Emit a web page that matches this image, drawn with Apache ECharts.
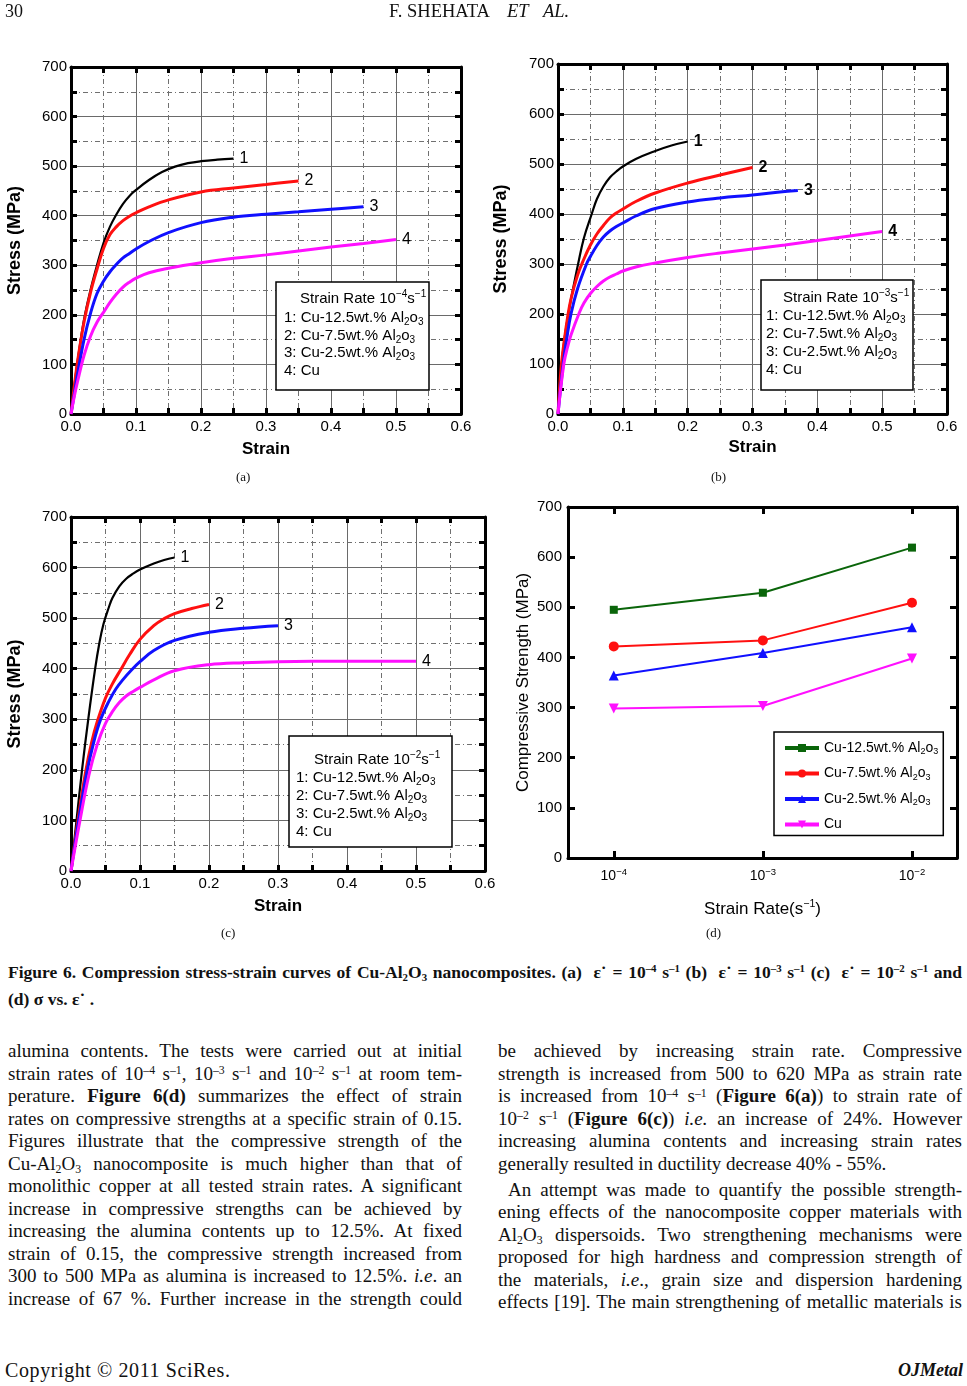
<!DOCTYPE html>
<html><head><meta charset="utf-8">
<script src="https://cdn.jsdelivr.net/npm/echarts@6/dist/echarts.min.js"></script>
<style>
html,body{margin:0;padding:0;background:#fff;}
body{width:967px;height:1386px;position:relative;overflow:hidden;font-family:"Liberation Serif","Times New Roman",serif;color:#111;}
#chart{position:absolute;left:0;top:0;width:967px;height:950px;}
.t{position:absolute;white-space:nowrap;line-height:1;}
.ln{position:absolute;white-space:nowrap;font-size:19px;line-height:22.5px;height:22.5px;transform-origin:0 50%;}
.cap{font-weight:bold;font-size:17.5px;}
sup{font-size:0.62em;vertical-align:0;position:relative;top:-0.5em;line-height:0;}
sub{font-size:0.62em;vertical-align:0;position:relative;top:0.28em;line-height:0;}
</style></head>
<body>
<div id="chart"></div>
<div class="t" style="left:5px;top:2px;font-size:18px;">30</div>
<div class="t" style="left:389px;top:2px;font-size:18.5px;">F. SHEHATA</div>
<div class="t" style="left:507px;top:2px;font-size:18.5px;font-style:italic;">ET</div>
<div class="t" style="left:543px;top:2px;font-size:18.5px;font-style:italic;">AL.</div>
<div class="t" style="left:236px;top:470px;font-size:13px;">(a)</div>
<div class="t" style="left:711px;top:470px;font-size:13px;">(b)</div>
<div class="t" style="left:221px;top:926px;font-size:13px;">(c)</div>
<div class="t" style="left:706px;top:926px;font-size:13px;">(d)</div>
<div id="textHost"></div>
<div class="t" style="left:5px;top:1360px;font-size:20px;letter-spacing:0.6px;">Copyright © 2011 SciRes.</div>
<div class="t" style="right:4px;top:1361px;font-size:18px;font-weight:bold;font-style:italic;">OJMetal</div>
<script>
// ---------------- data ----------------
// (a) strain rate 1e-4 : [strain, stress MPa]
const a1 = [[0,0],[0.005,55],[0.01,105],[0.02,190],[0.03,250],[0.04,300],[0.05,345],[0.06,378],[0.07,403],[0.08,424],[0.09,440],[0.1,452],[0.12,472],[0.14,488],[0.16,499],[0.18,506],[0.2,510],[0.225,513],[0.25,515]];
const a2 = [[0,0],[0.005,55],[0.01,105],[0.02,185],[0.03,245],[0.04,292],[0.05,334],[0.06,362],[0.07,378],[0.08,390],[0.09,399],[0.1,406],[0.12,418],[0.15,432],[0.2,448],[0.25,456],[0.3,463],[0.35,470]];
const a3 = [[0,0],[0.005,40],[0.01,80],[0.02,150],[0.03,203],[0.04,243],[0.05,268],[0.06,287],[0.07,302],[0.08,315],[0.09,324],[0.1,333],[0.12,348],[0.15,366],[0.2,386],[0.25,397],[0.3,403],[0.35,408],[0.4,413],[0.45,418]];
const a4 = [[0,0],[0.005,35],[0.01,65],[0.02,118],[0.03,157],[0.04,185],[0.05,205],[0.06,225],[0.07,242],[0.08,256],[0.09,266],[0.1,274],[0.12,285],[0.15,294],[0.2,305],[0.25,314],[0.3,321],[0.35,329],[0.4,337],[0.45,344],[0.5,352]];
// (b) strain rate 1e-3
const b1 = [[0,0],[0.005,90],[0.01,150],[0.018,215],[0.025,262],[0.031,300],[0.04,352],[0.052,400],[0.06,430],[0.07,455],[0.08,473],[0.09,485],[0.1,495],[0.12,510],[0.15,526],[0.175,537],[0.2,545]];
const b2 = [[0,0],[0.005,95],[0.01,150],[0.015,195],[0.02,230],[0.03,277],[0.04,310],[0.05,338],[0.06,360],[0.07,377],[0.08,392],[0.09,402],[0.1,410],[0.12,425],[0.15,442],[0.2,462],[0.25,478],[0.3,493]];
const b3 = [[0,0],[0.008,100],[0.014,155],[0.02,200],[0.03,250],[0.044,300],[0.05,315],[0.06,337],[0.07,354],[0.08,366],[0.09,375],[0.1,382],[0.12,396],[0.15,411],[0.2,424],[0.25,432],[0.3,438],[0.35,445],[0.37,447]];
const b4 = [[0,0],[0.009,100],[0.015,135],[0.02,158],[0.033,203],[0.04,222],[0.05,241],[0.06,255],[0.07,266],[0.08,274],[0.09,280],[0.1,286],[0.12,294],[0.15,302],[0.2,313],[0.25,322],[0.3,330],[0.35,338],[0.4,347],[0.45,356],[0.5,365]];
// (c) strain rate 1e-2
const c1 = [[0,0],[0.008,100],[0.016,200],[0.025,300],[0.035,400],[0.041,450],[0.047,488],[0.055,522],[0.06,540],[0.07,563],[0.08,578],[0.09,588],[0.1,596],[0.12,608],[0.135,615],[0.15,620]];
const c2 = [[0,0],[0.01,100],[0.021,195],[0.03,255],[0.038,295],[0.05,342],[0.06,370],[0.072,398],[0.085,428],[0.1,458],[0.12,485],[0.135,499],[0.15,509],[0.175,519],[0.2,527]];
const c3 = [[0,0],[0.011,100],[0.023,195],[0.033,255],[0.043,300],[0.055,336],[0.065,360],[0.075,378],[0.088,398],[0.1,414],[0.12,436],[0.15,456],[0.2,472],[0.25,480],[0.3,485]];
const c4 = [[0,0],[0.013,100],[0.026,190],[0.038,250],[0.05,292],[0.06,315],[0.07,333],[0.08,346],[0.09,355],[0.1,363],[0.12,378],[0.15,396],[0.2,408],[0.25,412],[0.3,414],[0.4,415],[0.5,415]];
// (d) compressive strength vs strain rate (log10 of rate)
const dRateExp = [-4, -3, -2];
const dCu125 = [495, 529, 619];
const dCu75  = [422, 434, 509];
const dCu25  = [364, 409, 460];
const dCu    = [298, 303, 398];
const dNames = ['Cu-12.5wt.% Al2o3', 'Cu-7.5wt.% Al2o3', 'Cu-2.5wt.% Al2o3', 'Cu'];
const dLegend = ['Cu-12.5wt.% Al{s|2}o{s|3}', 'Cu-7.5wt.% Al{s|2}o{s|3}', 'Cu-2.5wt.% Al{s|2}o{s|3}', 'Cu'];
// tick labels
const strainTicks = [0, 0.1, 0.2, 0.3, 0.4, 0.5, 0.6];
const stressTicks = [0, 100, 200, 300, 400, 500, 600, 700];
const curveLabels = ['1', '2', '3', '4'];
const boxItems = ['1: Cu-12.5wt.% Al{s|2}o{s|3}', '2: Cu-7.5wt.% Al{s|2}o{s|3}', '3: Cu-2.5wt.% Al{s|2}o{s|3}', '4: Cu'];
const boxHeads = ['Strain Rate 10{p|−4}s{p|−1}', 'Strain Rate 10{p|−3}s{p|−1}', 'Strain Rate 10{p|−2}s{p|−1}'];

// ---------------- chart ----------------
const FONT = '"Liberation Sans", Arial, Helvetica, sans-serif';
const COLORS = ['#000000', '#ff1010', '#1010ff', '#ff10ff'];
const WIDTHS = [2.2, 3, 3, 3];
const RICH = {
  s: {fontSize: 10, fontFamily: FONT, fill: '#000', color: '#000', padding: [9, 0, 0, 0]},
  p: {fontSize: 10, fontFamily: FONT, fill: '#000', color: '#000', padding: [0, 0, 9, 0]}
};
const grids = [
  {left: 71, top: 67, width: 390, height: 347},
  {left: 558, top: 64, width: 389, height: 350},
  {left: 71, top: 517, width: 414, height: 354},
  {left: 568, top: 507, width: 389, height: 351}
].map(g => Object.assign({outerBoundsMode: 'none', containLabel: false}, g));

const xAxes = [], yAxes = [], series = [];
function ssAxes(gi, xGap, yGap) {
  ['bottom', 'top'].forEach(pos => {
    const main = pos === 'bottom';
    xAxes.push({
      type: 'value', gridIndex: gi, position: pos, min: strainTicks[0], max: strainTicks[strainTicks.length - 1], interval: 0.1,
      name: main ? 'Strain' : '', nameLocation: 'middle', nameGap: xGap,
      nameTextStyle: {fontFamily: FONT, fontSize: 17, fontWeight: 'bold', color: '#000'},
      axisLine: {show: true, onZero: false, lineStyle: {color: '#000', width: 3}},
      axisTick: {show: true, inside: true, length: 6, lineStyle: {color: '#000', width: 3}},
      minorTick: {show: true, splitNumber: 2, length: 6, lineStyle: {color: '#000', width: 3}},
      axisLabel: {show: main, fontFamily: FONT, fontSize: 15, color: '#000', margin: 5, formatter: v => v.toFixed(1)},
      splitLine: {show: main, showMinLine: false, showMaxLine: false, lineStyle: {color: '#6a6a6a', width: 1}},
      minorSplitLine: {show: main, lineStyle: {color: '#707070', width: 1, type: [5, 3, 1, 3]}}
    });
  });
  ['left', 'right'].forEach(pos => {
    const main = pos === 'left';
    yAxes.push({
      type: 'value', gridIndex: gi, position: pos, min: stressTicks[0], max: stressTicks[stressTicks.length - 1], interval: 100,
      name: main ? 'Stress (MPa)' : '', nameLocation: 'middle', nameGap: yGap,
      nameTextStyle: {fontFamily: FONT, fontSize: 18, fontWeight: 'bold', color: '#000'},
      axisLine: {show: true, onZero: false, lineStyle: {color: '#000', width: 3}},
      axisTick: {show: true, inside: true, length: 6, lineStyle: {color: '#000', width: 3}},
      minorTick: {show: true, splitNumber: 2, length: 6, lineStyle: {color: '#000', width: 3}},
      axisLabel: {show: main, fontFamily: FONT, fontSize: 15, color: '#000', margin: 4},
      splitLine: {show: main, showMinLine: false, showMaxLine: false, lineStyle: {color: '#6a6a6a', width: 1}},
      minorSplitLine: {show: main, lineStyle: {color: '#707070', width: 1, type: [5, 3, 1, 3]}}
    });
  });
}
ssAxes(0, 27, 47);
ssAxes(1, 25, 48);
ssAxes(2, 27, 47);

function ssSeries(gi, curves, bold) {
  curves.forEach((d, i) => {
    series.push({
      type: 'line', xAxisIndex: gi * 2, yAxisIndex: gi * 2, data: d,
      smooth: 0.4, symbol: 'none', silent: true, z: 5,
      lineStyle: {color: COLORS[i], width: WIDTHS[i]},
      endLabel: {show: true, formatter: curveLabels[i], distance: 6, fontFamily: FONT, fontSize: 16,
        fontWeight: bold ? 'bold' : 'normal', color: '#000'}
    });
  });
}
ssSeries(0, [a1, a2, a3, a4], false);
ssSeries(1, [b1, b2, b3, b4], true);
ssSeries(2, [c1, c2, c3, c4], false);

// (d) axes
['bottom', 'top'].forEach(pos => {
  const main = pos === 'bottom';
  xAxes.push({
    type: 'value', gridIndex: 3, position: pos, min: -4.307, max: -1.698,
    name: main ? 'Strain Rate(s{p|−1})' : '', nameLocation: 'middle', nameGap: 41,
    nameTextStyle: {fontFamily: FONT, fontSize: 17, color: '#000', rich: {p: {fontSize: 10.5, fontFamily: FONT, color: '#000', padding: [0, 0, 9, 0]}}},
    axisLine: {show: true, onZero: false, lineStyle: {color: '#000', width: 3}},
    axisTick: {show: true, inside: true, length: 7, customValues: dRateExp, lineStyle: {color: '#000', width: 3}},
    axisLabel: {show: main, customValues: dRateExp, fontFamily: FONT, fontSize: 14, color: '#000', margin: 9,
      formatter: v => '{b|10}{p|−' + (-v) + '}',
      rich: {b: {fontSize: 14, fontFamily: FONT, color: '#000'}, p: {fontSize: 9.5, fontFamily: FONT, color: '#000', padding: [0, 0, 8, 0]}}},
    splitLine: {show: false}
  });
});
['left', 'right'].forEach(pos => {
  const main = pos === 'left';
  yAxes.push({
    type: 'value', gridIndex: 3, position: pos, min: 0, max: 700, interval: 100,
    name: main ? 'Compressive Strength (MPa)' : '', nameLocation: 'middle', nameGap: 36,
    nameTextStyle: {fontFamily: FONT, fontSize: 17, color: '#000'},
    axisLine: {show: true, onZero: false, lineStyle: {color: '#000', width: 3}},
    axisTick: {show: true, inside: true, length: 7, lineStyle: {color: '#000', width: 3}},
    axisLabel: {show: main, fontFamily: FONT, fontSize: 15, color: '#000', margin: 6},
    splitLine: {show: false}
  });
});
const dSets = [dCu125, dCu75, dCu25, dCu];
const dColors = ['#0a650a', '#ff1010', '#1010ff', '#ff10ff'];
const dSymbols = ['rect', 'circle', 'triangle', 'triangle'];
const dSizes = [8, 10, 10, 10];
const dRot = [0, 0, 0, 180];
dSets.forEach((vals, i) => {
  series.push({
    type: 'line', name: dNames[i], xAxisIndex: 6, yAxisIndex: 6,
    data: dRateExp.map((x, k) => [x, vals[k]]),
    symbol: dSymbols[i], symbolSize: dSizes[i], symbolRotate: dRot[i], showSymbol: true,
    lineStyle: {color: dColors[i], width: 2}, itemStyle: {color: dColors[i]}, silent: true
  });
});

function legendGraphic(box, headX, itemX, ys, head) {
  const els = [{type: 'rect', z: 50, shape: {x: box[0], y: box[1], width: box[2], height: box[3]},
    style: {fill: '#fff', stroke: '#000', lineWidth: 1.5}}];
  const base = {fontSize: 15, fontFamily: FONT, fill: '#000', verticalAlign: 'middle', align: 'left', rich: RICH};
  els.push({type: 'text', z: 51, x: headX, y: ys[0], style: Object.assign({text: head}, base)});
  boxItems.forEach((t, i) => els.push({type: 'text', z: 51, x: itemX, y: ys[i + 1], style: Object.assign({text: t}, base)}));
  return els;
}
const graphics = [].concat(
  legendGraphic([276, 282, 153, 108], 300, 284, [299, 318, 335.5, 353, 371], boxHeads[0]),
  legendGraphic([761, 280, 152, 110], 783, 766, [298, 316, 334, 352, 370], boxHeads[1]),
  legendGraphic([289, 736, 163, 111], 314, 296, [760, 778, 796, 814, 832], boxHeads[2])
);

const chart = echarts.init(document.getElementById('chart'));
chart.setOption({
  animation: false,
  textStyle: {fontFamily: FONT},
  grid: grids, xAxis: xAxes, yAxis: yAxes, series: series,
  legend: {
    show: true, data: dNames, orient: 'vertical', left: 774, top: 732,
    itemWidth: 34, itemHeight: 10, itemGap: 10, padding: [9, 5, 4, 9],
    backgroundColor: '#fff', borderColor: '#000', borderWidth: 1.5, borderRadius: 0,
    lineStyle: {width: 4},
    formatter: name => dLegend[dNames.indexOf(name)],
    textStyle: {fontFamily: FONT, fontSize: 14, color: '#000',
      rich: {s: {fontSize: 9, fontFamily: FONT, color: '#000', padding: [8, 0, 0, 0]}}}
  },
  graphic: {elements: graphics}
});

// ---------------- page text ----------------
const captionLine1 = 'Figure 6. Compression stress-strain curves of Cu-Al<sub>2</sub>O<sub>3</sub> nanocomposites. (a)&nbsp; ε˙ = 10<sup>–4</sup> s<sup>–1</sup> (b)&nbsp; ε˙ = 10<sup>–3</sup> s<sup>–1</sup> (c)&nbsp; ε˙ = 10<sup>–2</sup> s<sup>–1</sup> and';
const captionLine2 = '(d) σ vs. ε˙ .';
const leftLines = [
  'alumina contents. The tests were carried out at initial',
  'strain rates of 10<sup>–4</sup> s<sup>–1</sup>, 10<sup>–3</sup> s<sup>–1</sup> and 10<sup>–2</sup> s<sup>–1</sup> at room tem-',
  'perature. <b>Figure 6(d)</b> summarizes the effect of strain',
  'rates on compressive strengths at a specific strain of 0.15.',
  'Figures illustrate that the compressive strength of the',
  'Cu-Al<sub>2</sub>O<sub>3</sub> nanocomposite is much higher than that of',
  'monolithic copper at all tested strain rates. A significant',
  'increase in compressive strengths can be achieved by',
  'increasing the alumina contents up to 12.5%. At fixed',
  'strain of 0.15, the compressive strength increased from',
  '300 to 500 MPa as alumina is increased to 12.5%. <i>i.e</i>. an',
  'increase of 67 %. Further increase in the strength could'
];
const rightLines = [
  'be achieved by increasing strain rate. Compressive',
  'strength is increased from 500 to 620 MPa as strain rate',
  'is increased from 10<sup>–4</sup> s<sup>–1</sup> (<b>Figure 6(a)</b>) to strain rate of',
  '10<sup>–2</sup> s<sup>–1</sup> (<b>Figure 6(c)</b>) <i>i.e.</i> an increase of 24%. However',
  'increasing alumina contents and increasing strain rates',
  'generally resulted in ductility decrease 40% - 55%.',
  'An attempt was made to quantify the possible strength-',
  'ening effects of the nanocomposite copper materials with',
  'Al<sub>2</sub>O<sub>3</sub> dispersoids. Two strengthening mechanisms were',
  'proposed for high hardness and compression strength of',
  'the materials, <i>i.e</i>., grain size and dispersion hardening',
  'effects [19]. The main strengthening of metallic materials is'
];
const host = document.getElementById('textHost');
function addLine(html, x, yc, w, justify, cls) {
  const d = document.createElement('div');
  d.className = 'ln' + (cls ? ' ' + cls : '');
  d.innerHTML = html;
  d.style.left = x + 'px';
  d.style.top = (yc - 11.25) + 'px';
  if (justify) { d.dataset.w = w; d.classList.add('j'); }
  host.appendChild(d);
  return d;
}
addLine(captionLine1, 8, 972, 954, true, 'cap');
addLine(captionLine2, 8, 999, 0, false, 'cap');
leftLines.forEach((l, i) => addLine(l, 8, 1051.7 + i * 22.5, 454, true));
rightLines.forEach((l, i) => {
  const yc = i < 6 ? 1051.7 + i * 22.5 : 1190 + (i - 6) * 22.5;
  const x = i === 6 ? 508 : 498;
  const w = i === 6 ? 454 : 464;
  addLine(l, x, yc, w, i !== 5);
});
function justify() {
  document.querySelectorAll('.j').forEach(el => {
    el.style.wordSpacing = '0px';
    el.style.transform = 'none';
    const target = +el.dataset.w;
    const w = el.getBoundingClientRect().width;
    const n = (el.textContent.match(/[ \u00a0]/g) || []).length;
    if (w > target) el.style.transform = 'scaleX(' + (target / w) + ')';
    else if (n > 0) el.style.wordSpacing = ((target - w) / n) + 'px';
  });
}
justify();
if (document.fonts && document.fonts.ready) document.fonts.ready.then(justify);
</script>
</body></html>
